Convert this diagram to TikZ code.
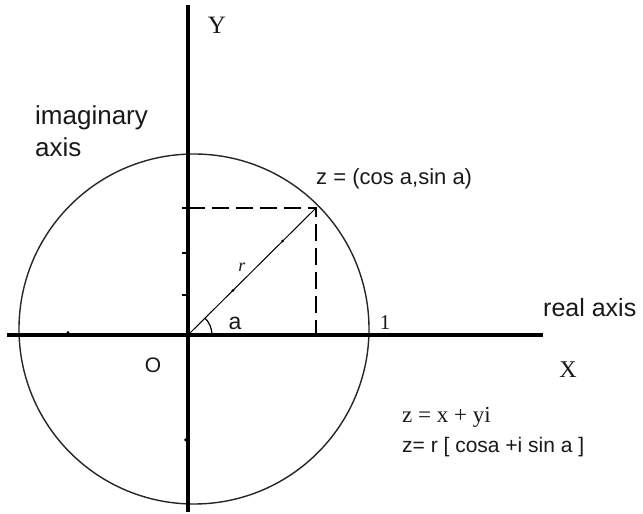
\documentclass[tikz,border=0pt]{standalone}
\usepackage{fontspec}
\setmainfont{Liberation Serif}
\setsansfont{Liberation Sans}
\usetikzlibrary{arrows.meta,positioning,calc}

\begin{document}
\begin{tikzpicture}[x=1pt,y=1pt,>=Latex,every node/.style={inner sep=0pt,text=black!90},
  axisline/.style={line width=3.2pt},
  rim/.style={line width=1.4pt,black!85},
  guide/.style={line width=1.6pt,dash pattern=on 17pt off 7pt},
  sanslbl/.style={font=\fontsize{#1}{#1}\sffamily\selectfont},
  seriflbl/.style={font=\fontsize{#1}{#1}\rmfamily\selectfont}]
  \useasboundingbox[fill=white] (-188,-179) rectangle (455,335);
  \coordinate (origin) at (0,0);
  \coordinate (yTop) at (0,330);
  \coordinate (yBot) at (0,-177);
  \coordinate (xLeft) at (-181,0);
  \coordinate (xRight) at (355,0);
  \coordinate (ctr) at (6,6);
  \coordinate (zpt) at (128,127);
  \coordinate (zx) at (zpt |- origin);
  \coordinate (zy) at (zpt -| origin);
  \draw[rim] (ctr) circle[radius=175];
  \draw[guide] (zy) -- (zpt) -- (zx);
  \draw[line width=1pt] (origin) -- (zpt);
  \draw[line width=1.2pt] ([shift={(0:24)}]origin) arc[start angle=0,end angle=45,radius=24];
  \foreach \t in {40,82,127}{\draw[line width=1.2pt] (-6,\t) -- (origin |- 0,\t);}
  \foreach \p in {0.35,0.74}{\fill ($(origin)!\p!(zpt)$) circle[radius=1.5];}
  \fill (-120,2.5) circle[radius=1.5];
  \fill (-2.5,-105) circle[radius=1.5];
  \draw[axisline] (xLeft) -- (xRight);
  \draw[axisline] (yBot) -- (yTop);
  \node[seriflbl=25] (ylbl) at (29,310) {Y};
  \node[sanslbl=26,anchor=base west] (imag) at (-153,210) {imaginary};
  \node[sanslbl=26,anchor=base west] (imagAxis) at ([yshift=-32]imag.base west) {axis};
  \node[sanslbl=22,anchor=west] (zlbl) at ([yshift=29]zpt) {z = (cos a,sin a)};
  \node[font=\fontsize{18}{18}\rmfamily\itshape\selectfont] (rlbl) at (54,68) {r};
  \node[sanslbl=23] (albl) at (47,12) {a};
  \node[seriflbl=21] (one) at (197,12) {1};
  \node[sanslbl=25,anchor=base west] (realLbl) at (355,18) {real axis};
  \node[seriflbl=24] (xlbl) at (380,-35) {X};
  \node[sanslbl=21] (olbl) at (-35,-30) {O};
  \node[seriflbl=23,anchor=base west] (eqA) at (214,-88) {z = x + yi};
  \node[sanslbl=21,anchor=base west] (eqB) at (214,-118) {z= r [ cosa +i sin a ]};
\end{tikzpicture}
\end{document}
